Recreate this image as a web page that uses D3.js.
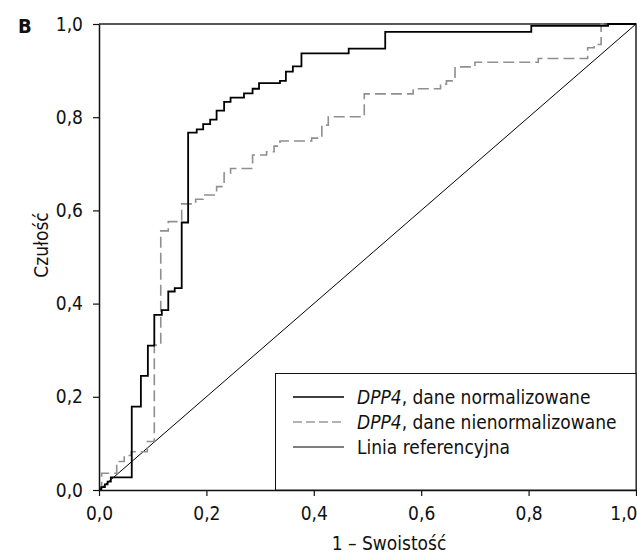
<!DOCTYPE html>
<html>
<head>
<meta charset="utf-8">
<script src="https://cdn.jsdelivr.net/npm/d3@7"></script>
<style>
    body { margin: 0; background: #fff; }
    text { font-family: "Liberation Sans Narrow", "DejaVu Sans Condensed", sans-serif; }
</style>
</head>
<body>
<svg id="chart" width="637" height="556"></svg>
<script>
// ROC curves, corner points at the top of each rise (1 - specificity, sensitivity)
var normFpr = [0, 0.004, 0.011, 0.016, 0.022, 0.061, 0.078, 0.091, 0.103, 0.117, 0.129, 0.141,
    0.154, 0.166, 0.182, 0.194, 0.207, 0.219, 0.233, 0.245, 0.270, 0.286, 0.298, 0.337,
    0.348, 0.361, 0.377, 0.465, 0.533, 0.805, 0.948, 1.0];
var normTpr = [0, 0.006, 0.012, 0.018, 0.027, 0.179, 0.245, 0.310, 0.376, 0.386, 0.426, 0.433,
    0.574, 0.767, 0.774, 0.785, 0.795, 0.814, 0.833, 0.842, 0.851, 0.861, 0.873, 0.878,
    0.898, 0.909, 0.937, 0.947, 0.983, 0.996, 1.0, 1.0];

var rawFpr = [0, 0.005, 0.033, 0.047, 0.060, 0.090, 0.103, 0.115, 0.129, 0.154, 0.180, 0.194,
    0.219, 0.233, 0.245, 0.286, 0.312, 0.326, 0.337, 0.396, 0.415, 0.427, 0.494, 0.585,
    0.636, 0.647, 0.663, 0.700, 0.818, 0.910, 0.922, 0.935, 1.0];
var rawTpr = [0, 0.036, 0.061, 0.074, 0.082, 0.104, 0.311, 0.556, 0.576, 0.614, 0.624, 0.633,
    0.651, 0.680, 0.690, 0.719, 0.726, 0.738, 0.749, 0.755, 0.783, 0.801, 0.850, 0.861,
    0.871, 0.878, 0.908, 0.918, 0.926, 0.949, 0.956, 1.0, 1.0];

var refLine = [0, 1];
var ticks = [0, 0.2, 0.4, 0.6, 0.8, 1.0];
var legendLabels = [
    { italic: 'DPP4', rest: ', dane normalizowane' },
    { italic: 'DPP4', rest: ', dane nienormalizowane' },
    { italic: '', rest: 'Linia referencyjna' }
];

var svg = d3.select('#chart');

var plotLeft = 99, plotRight = 636, plotTop = 24, plotBottom = 490;
var fontSize = 19;

var x = d3.scaleLinear().domain([0, 1]).range([plotLeft, plotRight]);
var y = d3.scaleLinear().domain([0, 1]).range([plotBottom, plotTop]);

var pl = d3.formatLocale({ decimal: ',', thousands: ' ', grouping: [3], currency: ['', ' zł'] });
var fmt = pl.format('.1f');

var line = d3.line()
    .x(function(d) { return x(d[0]); })
    .y(function(d) { return y(d[1]); })
    .curve(d3.curveStepAfter);

function pairs(xs, ys) {
    return xs.map(function(v, i) { return [v, ys[i]]; });
}

// frame (top and right)
svg.append('path')
    .attr('d', 'M' + plotLeft + ',' + plotTop + 'H' + plotRight + 'V' + plotBottom)
    .attr('fill', 'none')
    .attr('stroke', '#222')
    .attr('stroke-width', 1.5);

// reference diagonal
svg.append('path')
    .datum(pairs(refLine, refLine))
    .attr('d', d3.line().x(function(d) { return x(d[0]); }).y(function(d) { return y(d[1]); }))
    .attr('fill', 'none')
    .attr('stroke', '#000')
    .attr('stroke-width', 1);

svg.append('path')
    .datum(pairs(rawFpr, rawTpr))
    .attr('d', line)
    .attr('fill', 'none')
    .attr('stroke', '#8f8f8f')
    .attr('stroke-width', 1.6)
    .attr('stroke-dasharray', '11,5');

svg.append('path')
    .datum(pairs(normFpr, normTpr))
    .attr('d', line)
    .attr('fill', 'none')
    .attr('stroke', '#000')
    .attr('stroke-width', 1.8);

// axes
var xAxis = svg.append('g')
    .attr('transform', 'translate(0,' + plotBottom + ')')
    .call(d3.axisBottom(x).tickValues(ticks).tickFormat(fmt).tickSize(6).tickSizeOuter(0).tickPadding(6));

var yAxis = svg.append('g')
    .attr('transform', 'translate(' + plotLeft + ',0)')
    .call(d3.axisLeft(y).tickValues(ticks).tickFormat(fmt).tickSize(6).tickSizeOuter(0).tickPadding(10));

[xAxis, yAxis].forEach(function(a) {
    a.select('.domain').attr('stroke', '#111').attr('stroke-width', 1.5);
    a.selectAll('.tick line').attr('stroke', '#111').attr('stroke-width', 1.2);
    a.selectAll('.tick text')
        .attr('fill', '#111')
        .style('font-family', '"Liberation Sans Narrow", "DejaVu Sans Condensed", sans-serif')
        .attr('font-size', fontSize);
});
xAxis.selectAll('.tick text').attr('dy', '0.95em');
xAxis.selectAll('.tick').filter(function(d) { return d === 1; })
    .select('text').attr('text-anchor', 'end').attr('dx', '1px');

// axis titles
svg.append('text')
    .attr('x', 389)
    .attr('y', 550)
    .attr('text-anchor', 'middle')
    .attr('font-size', fontSize)
    .attr('fill', '#111')
    .text('1 – Swoistość');

svg.append('text')
    .attr('transform', 'translate(48,' + ((plotTop + plotBottom) / 2 - 12) + ') rotate(-90)')
    .attr('text-anchor', 'middle')
    .attr('font-size', fontSize)
    .attr('fill', '#111')
    .text('Czułość');

svg.append('text')
    .attr('x', 18)
    .attr('y', 33)
    .attr('font-size', 20)
    .attr('font-weight', 'bold')
    .attr('fill', '#111')
    .text('B');

// legend
var legend = svg.append('g');
legend.append('rect')
    .attr('x', 275.5)
    .attr('y', 373.5)
    .attr('width', plotRight - 275.5)
    .attr('height', plotBottom - 373.5)
    .attr('fill', '#fff')
    .attr('stroke', '#111')
    .attr('stroke-width', 1);

var legendStyles = [
    { stroke: '#000', width: 1.6, dash: null },
    { stroke: '#999', width: 1.4, dash: '9,4' },
    { stroke: '#000', width: 1, dash: null }
];

var rows = legend.selectAll('g.row')
    .data(legendLabels)
    .enter()
    .append('g')
    .attr('class', 'row')
    .attr('transform', function(d, i) { return 'translate(0,' + (397 + i * 25) + ')'; });

rows.append('line')
    .attr('x1', 293)
    .attr('x2', 344)
    .attr('stroke', function(d, i) { return legendStyles[i].stroke; })
    .attr('stroke-width', function(d, i) { return legendStyles[i].width; })
    .attr('stroke-dasharray', function(d, i) { return legendStyles[i].dash; });

var lt = rows.append('text')
    .attr('x', 357)
    .attr('y', 7)
    .attr('font-size', fontSize)
    .attr('fill', '#111');
lt.append('tspan')
    .attr('font-style', 'italic')
    .text(function(d) { return d.italic; });
lt.append('tspan')
    .text(function(d) { return d.rest; });
</script>
</body>
</html>
